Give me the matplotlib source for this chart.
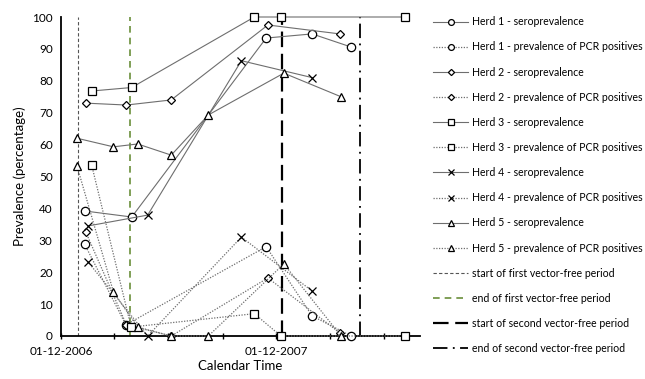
import matplotlib
matplotlib.use("Agg")
import matplotlib.pyplot as plt
import matplotlib.dates as mdates
import pandas as pd

plt.rcParams['font.family'] = ['Lato', 'DejaVu Sans']

# sampling dates and values
h1_dates = ["2007-01-10", "2007-03-31", "2007-11-14", "2008-01-31", "2008-04-06"]
h1_sero = [39.2, 37.3, 93.4, 94.7, 90.6]
h1_pcr_dates = ["2007-01-10", "2007-03-21", "2007-11-14", "2008-01-31", "2008-04-06"]
h1_pcr = [28.8, 3.5, 28.0, 6.3, 0.0]

h2_dates = ["2007-01-12", "2007-03-22", "2007-06-06", "2007-11-17", "2008-03-18"]
h2_sero = [73.0, 72.4, 74.0, 97.5, 94.7]
h2_pcr = [32.6, 3.5, 0.0, 18.2, 1.0]

h3_dates = ["2007-01-22", "2007-03-31", "2007-10-25", "2007-12-09", "2008-07-07"]
h3_sero = [76.8, 77.9, 100.0, 100.0, 100.0]
h3_pcr_dates = ["2007-01-22", "2007-03-30", "2007-10-25", "2007-12-09", "2008-07-07"]
h3_pcr = [53.6, 2.8, 7.0, 0.0, 0.0]

h4_dates = ["2007-01-16", "2007-04-27", "2007-10-03", "2008-01-31"]
h4_sero = [34.5, 37.9, 86.3, 81.0]
h4_pcr = [23.2, 0.0, 31.0, 14.1]

h5_dates = ["2006-12-28", "2007-02-28", "2007-04-10", "2007-06-06",
            "2007-08-08", "2007-12-14", "2008-03-20"]
h5_sero = [62.0, 59.3, 60.2, 56.7, 69.3, 82.4, 75.0]
h5_pcr = [53.4, 13.8, 2.8, 0.0, 0.0, 22.6, 0.0]

period_dates = ["2006-12-30", "2007-03-28", "2007-12-11", "2008-04-21"]
period_labels = ["start of first vector-free period", "end of first vector-free period",
                 "start of second vector-free period", "end of second vector-free period"]

herds = [
    ("Herd 1", "o", h1_dates, h1_sero, h1_pcr_dates, h1_pcr),
    ("Herd 2", "D", h2_dates, h2_sero, h2_dates, h2_pcr),
    ("Herd 3", "s", h3_dates, h3_sero, h3_pcr_dates, h3_pcr),
    ("Herd 4", "x", h4_dates, h4_sero, h4_dates, h4_pcr),
    ("Herd 5", "^", h5_dates, h5_sero, h5_dates, h5_pcr),
]
msize = {"o": 6, "D": 4.5, "s": 6, "x": 6, "^": 6}

fig = plt.figure(figsize=(6.45, 3.79), dpi=100)
ax = fig.add_axes([61 / 645, 43 / 379, 359 / 645, 319 / 379])

line_col = "#6e6e6e"
for name, mk, d_s, v_s, d_p, v_p in herds:
    ax.plot(pd.to_datetime(d_s), v_s, color=line_col, lw=0.8, marker=mk,
            ms=msize[mk], mfc="white", mec="black", mew=0.9,
            label=name + " - seroprevalence", clip_on=False, zorder=3)
    ax.plot(pd.to_datetime(d_p), v_p, color=line_col, lw=0.9, ls=(0, (1, 1.2)),
            marker=mk, ms=msize[mk], mfc="white", mec="black", mew=0.9,
            label=name + " - prevalence of PCR positives", clip_on=False, zorder=3)

vstyles = [
    dict(color="#555555", lw=0.8, ls=(0, (3, 2))),
    dict(color="#6a8f3a", lw=1.2, ls=(0, (4, 3))),
    dict(color="black", lw=1.6, ls=(0, (7, 3))),
    dict(color="black", lw=1.3, ls=(0, (8, 3, 1, 3))),
]
for d, lab, st in zip(period_dates, period_labels, vstyles):
    ax.axvline(pd.to_datetime(d), label=lab, zorder=2, **st)

ax.set_xlim(pd.Timestamp("2006-12-01"), pd.Timestamp("2008-08-01"))
ax.set_ylim(0, 100)
ax.set_yticks(range(0, 101, 10))
ax.xaxis.set_major_locator(mdates.MonthLocator(bymonth=[12]))
ax.xaxis.set_major_formatter(mdates.DateFormatter("%d-%m-%Y"))
ax.xaxis.set_minor_locator(mdates.MonthLocator(bymonth=[3, 6, 9, 12]))
ax.tick_params(axis="x", which="both", direction="inout", length=5, width=1, labelsize=8.5, pad=5)
ax.tick_params(axis="y", length=0, labelsize=8.5, pad=6)

for s in ["top", "right"]:
    ax.spines[s].set_visible(False)
ax.spines["left"].set_linewidth(1.3)
ax.spines["bottom"].set_linewidth(1.3)

ax.set_ylabel("Prevalence (percentage)", fontsize=9.5)
ax.set_xlabel("Calendar Time", fontsize=9.5, labelpad=2)

leg = fig.legend(loc="upper left", bbox_to_anchor=(429 / 645, 1 - 12 / 379),
                 frameon=False, fontsize=7.6, handlelength=3.3, handletextpad=0.35,
                 labelspacing=1.34, borderaxespad=0, markerscale=0.7)

fig.savefig("out.png", dpi=100)
